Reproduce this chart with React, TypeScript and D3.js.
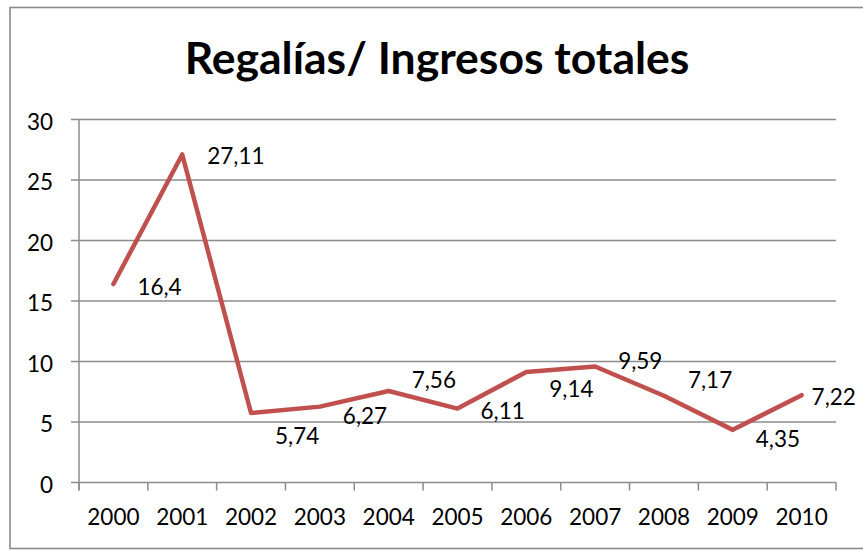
import React from 'react';
import * as d3 from 'd3';

// chart data
const years = ['2000', '2001', '2002', '2003', '2004', '2005', '2006', '2007', '2008', '2009', '2010'];
const ratios = [16.4, 27.11, 5.74, 6.27, 7.56, 6.11, 9.14, 9.59, 7.17, 4.35, 7.22];
const yTicks = [0, 5, 10, 15, 20, 25, 30];

// where each value label sits relative to its point (dx to the text's left edge, dy to its middle)
const labelNudge: [number, number][] = [
  [24, 3], [25, 2], [24, 23], [23, 9], [23, -11], [23, 2],
  [23, 17], [23, -5], [24, -16], [23, 9], [10, 2],
];

const W = 863;
const H = 550;
const margin = { top: 119.5, right: 27, bottom: 67.5, left: 79 };
const FONT = 'Lato, "Open Sans", sans-serif';

export default function App() {
  const x = d3.scaleBand<string>()
    .domain(years)
    .range([margin.left, W - margin.right])
    .padding(0);

  const y = d3.scaleLinear()
    .domain([0, 30])
    .range([H - margin.bottom, margin.top]);

  const cx = (yr: string) => (x(yr) as number) + x.bandwidth() / 2;

  const line = d3.line<number>()
    .x((d, i) => cx(years[i]))
    .y(d => y(d));

  const fmt = (v: number) => String(v).replace('.', ',');
  const x0 = margin.left;
  const x1 = W - margin.right;
  const yBase = y(0);
  const grid = '#8c8c8c';
  const boundaries = [...years.map(yr => x(yr) as number), x1];

  return (
    <svg width={W} height={H} style={{ position: 'absolute', left: 0, top: 0, background: '#fff' }}
      fontFamily={FONT}>
      {/* chart frame */}
      <rect x={10} y={7.5} width={W + 20} height={541} fill="#fff" stroke="#8a8a8a" strokeWidth={1.6} />

      <text x={437} y={74} textAnchor="middle" fontSize={44.5} fontWeight={700} fill="#000">
        Regalías/ Ingresos totales
      </text>

      {/* horizontal gridlines + y ticks */}
      {yTicks.map(t => (
        <g key={t}>
          <line x1={x0 - 8} x2={x1} y1={y(t)} y2={y(t)} stroke={grid} strokeWidth={1.5} />
          <text x={53} y={y(t) + 10} textAnchor="end" fontSize={22.5} fill="#000">{t}</text>
        </g>
      ))}

      {/* axes */}
      <line x1={x0} x2={x0} y1={y(30)} y2={yBase + 8} stroke={grid} strokeWidth={1.5} />
      {boundaries.map((bx, i) => (
        <line key={i} x1={bx} x2={bx} y1={yBase} y2={yBase + 8} stroke={grid} strokeWidth={1.5} />
      ))}
      {years.map(yr => (
        <text key={yr} x={cx(yr)} y={525} textAnchor="middle" fontSize={22.5} fill="#000">{yr}</text>
      ))}

      {/* series */}
      <path d={line(ratios) || ''} fill="none" stroke="#C0504D" strokeWidth={4.5}
        strokeLinejoin="round" strokeLinecap="round" />

      {ratios.map((v, i) => (
        <text key={i} x={cx(years[i]) + labelNudge[i][0]} y={y(v) + labelNudge[i][1] + 8}
          fontSize={22.5} fill="#000">{fmt(v)}</text>
      ))}
    </svg>
  );
}
